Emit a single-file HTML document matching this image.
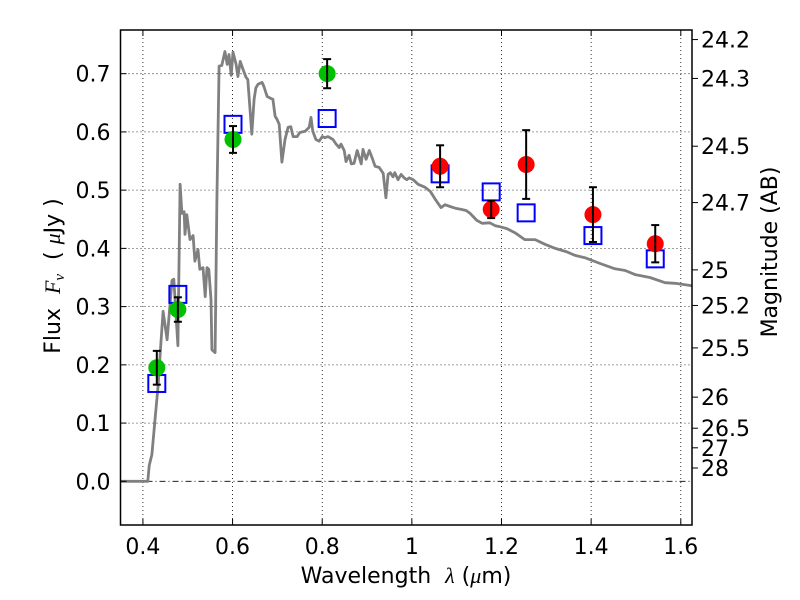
<!DOCTYPE html>
<html><head><meta charset="utf-8"><style>
body{margin:0;background:#fff;}
svg{display:block;font-family:"DejaVu Sans","Liberation Sans",sans-serif;}
text{white-space:pre;}
</style></head><body>
<svg id="chart" width="800" height="600" xmlns="http://www.w3.org/2000/svg"></svg>
<script>
const xTicks=[0.4,0.6,0.8,1.0,1.2,1.4,1.6];
const xTickLabels=["0.4","0.6","0.8","1","1.2","1.4","1.6"];
const yTicks=[0,0.1,0.2,0.3,0.4,0.5,0.6,0.7];
const yTickLabels=["0.0","0.1","0.2","0.3","0.4","0.5","0.6","0.7"];
const magTicks=[24.2,24.3,24.5,24.7,25,25.2,25.5,26,26.5,27,28];
const magTickLabels=["24.2","24.3","24.5","24.7","25","25.2","25.5","26","26.5","27","28"];
const specLam=[0.35,0.411,0.414,0.420,0.427,0.434,0.440,0.445,0.454,0.465,0.469,0.478,0.483,0.487,0.492,0.494,0.498,0.505,0.512,0.516,0.523,0.527,0.534,0.539,0.543,0.547,0.552,0.554,0.561,0.565,0.570,0.576,0.583,0.588,0.592,0.597,0.601,0.608,0.612,0.617,0.623,0.630,0.634,0.639,0.643,0.648,0.652,0.657,0.666,0.670,0.677,0.684,0.690,0.695,0.699,0.704,0.710,0.717,0.724,0.730,0.735,0.744,0.750,0.762,0.771,0.775,0.779,0.786,0.793,0.800,0.806,0.813,0.824,0.831,0.838,0.842,0.849,0.853,0.860,0.865,0.871,0.878,0.887,0.891,0.898,0.905,0.911,0.918,0.927,0.936,0.942,0.947,0.952,0.958,0.962,0.969,0.976,0.983,0.989,0.994,1.003,1.014,1.029,1.041,1.054,1.065,1.074,1.085,1.097,1.110,1.121,1.130,1.145,1.157,1.174,1.186,1.197,1.212,1.230,1.252,1.275,1.297,1.320,1.346,1.364,1.386,1.420,1.453,1.476,1.498,1.531,1.565,1.587,1.625];
const specFlux=[0,0,0.027,0.046,0.106,0.166,0.235,0.292,0.243,0.345,0.347,0.233,0.510,0.460,0.463,0.424,0.458,0.415,0.422,0.378,0.398,0.364,0.367,0.317,0.367,0.364,0.312,0.226,0.221,0.484,0.713,0.714,0.738,0.716,0.733,0.697,0.737,0.716,0.695,0.721,0.708,0.694,0.690,0.639,0.596,0.656,0.676,0.682,0.685,0.678,0.661,0.658,0.656,0.627,0.622,0.613,0.548,0.587,0.608,0.609,0.592,0.592,0.599,0.601,0.608,0.625,0.601,0.587,0.584,0.592,0.590,0.592,0.587,0.579,0.573,0.579,0.568,0.549,0.560,0.545,0.546,0.568,0.545,0.570,0.553,0.568,0.556,0.541,0.539,0.529,0.487,0.527,0.530,0.523,0.530,0.518,0.527,0.521,0.518,0.521,0.518,0.510,0.505,0.498,0.482,0.470,0.475,0.472,0.469,0.467,0.465,0.460,0.448,0.443,0.444,0.439,0.437,0.434,0.427,0.415,0.415,0.407,0.400,0.394,0.388,0.384,0.374,0.365,0.362,0.355,0.350,0.341,0.340,0.336];
const obsLam=[0.431,0.478,0.601,0.811];
const obsFlux=[0.195,0.295,0.587,0.700];
const obsErr=[0.029,0.021,0.023,0.025];
const nirLam=[1.063,1.177,1.255,1.404,1.543];
const nirFlux=[0.541,0.467,0.544,0.458,0.408];
const nirErr=[0.036,0.015,0.059,0.047,0.032];
const modelLam=[0.431,0.478,0.601,0.811,1.063,1.177,1.255,1.404,1.543];
const modelFlux=[0.168,0.321,0.613,0.623,0.528,0.497,0.461,0.422,0.382];

const L=120.5,R=692,T=30,B=525;
const xmin=0.35,xmax=1.625,ymin=-0.075,ymax=0.775;
const sx=v=>L+(v-xmin)/(xmax-xmin)*(R-L);
const sy=v=>B-(v-ymin)/(ymax-ymin)*(B-T);
const magToFlux=m=>Math.pow(10,(23.9-m)/2.5);
const svg=document.getElementById('chart');
const NS='http://www.w3.org/2000/svg';
function mk(tag,attrs,parent){const e=document.createElementNS(NS,tag);for(const k in attrs)e.setAttribute(k,attrs[k]);(parent||svg).appendChild(e);return e;}

const grid=mk('g',{});


xTicks.forEach(v=>{mk('line',{x1:sx(v),x2:sx(v),y1:T,y2:B,stroke:'#000','stroke-width':0.8,'stroke-dasharray':'1,3'},grid);});
yTicks.forEach(v=>{if(v===0)return;mk('line',{x1:L,x2:R,y1:sy(v),y2:sy(v),stroke:'#000','stroke-width':0.8,'stroke-dasharray':'1,3'},grid);});
const zl=mk('line',{x1:L,x2:R,y1:sy(0),y2:sy(0),stroke:'#000','stroke-width':0.8,'stroke-dasharray':'6,3,1,3'});



let d='';specLam.forEach((l,i)=>{d+=(i?'L':'M')+sx(l).toFixed(1)+','+sy(specFlux[i]).toFixed(1);});
const sp=mk('path',{d:d,fill:'none',stroke:'#808080','stroke-width':2.8,'stroke-linejoin':'round'});



modelLam.forEach((l,i)=>{const s=mk('rect',{x:sx(l)-8.5,y:sy(modelFlux[i])-8.5,width:17,height:17,fill:'none',stroke:'#0000ff','stroke-width':2});

});

function pts(lam,fl,er,col,name){lam.forEach((l,i)=>{const g=mk('g',{});


mk('circle',{cx:sx(l),cy:sy(fl[i]),r:8.5,fill:col},g);
const x=sx(l),y1=sy(fl[i]+er[i]),y2=sy(fl[i]-er[i]);
mk('line',{x1:x,x2:x,y1:y1,y2:y2,stroke:'#000','stroke-width':2},g);
mk('line',{x1:x-4,x2:x+4,y1:y1,y2:y1,stroke:'#000','stroke-width':2},g);
mk('line',{x1:x-4,x2:x+4,y1:y2,y2:y2,stroke:'#000','stroke-width':2},g);});}
pts(obsLam,obsFlux,obsErr,'#00c000','optical-point');
pts(nirLam,nirFlux,nirErr,'#ff0000','nir-point');

const fr=mk('rect',{x:L,y:T,width:R-L,height:B-T,fill:'none',stroke:'#000','stroke-width':1.5});



xTicks.forEach((v,i)=>{mk('line',{x1:sx(v),x2:sx(v),y1:B,y2:B-6,stroke:'#000'});mk('line',{x1:sx(v),x2:sx(v),y1:T,y2:T+6,stroke:'#000'});
const t=mk('text',{x:sx(v),y:B+29,'font-size':22,'text-anchor':'middle'});t.textContent=xTickLabels[i];

});
yTicks.forEach((v,i)=>{mk('line',{x1:L,x2:L+6,y1:sy(v),y2:sy(v),stroke:'#000'});
const t=mk('text',{x:L-10,y:sy(v)+8,'font-size':22,'text-anchor':'end'});t.textContent=yTickLabels[i];

});
magTicks.forEach((m,i)=>{const y=sy(magToFlux(m));mk('line',{x1:R,x2:R+6,y1:y,y2:y,stroke:'#000'});
const t=mk('text',{x:R+9,y:y+8,'font-size':22});t.textContent=magTickLabels[i];

});

const xl=mk('text',{x:406,y:583,'font-size':22,'text-anchor':'middle'});
xl.innerHTML='Wavelength  <tspan font-family="Liberation Serif,serif" font-style="italic">λ</tspan> (<tspan font-family="Liberation Serif,serif" font-style="italic">μ</tspan>m)';


const yl=mk('text',{x:0,y:0,'font-size':22,'text-anchor':'middle',transform:'translate(60,276) rotate(-90)'});
yl.innerHTML='Flux  <tspan font-family="Liberation Serif,serif" font-style="italic">F</tspan><tspan font-family="Liberation Serif,serif" font-style="italic" font-size="15" dy="4">ν</tspan><tspan dy="-4">  ( </tspan><tspan font-family="Liberation Serif,serif" font-style="italic">μ</tspan>Jy )';


const rl=mk('text',{x:0,y:0,'font-size':22,'text-anchor':'middle',transform:'translate(777,252) rotate(-90)'});
rl.textContent='Magnitude (AB)';


</script>
</body></html>
